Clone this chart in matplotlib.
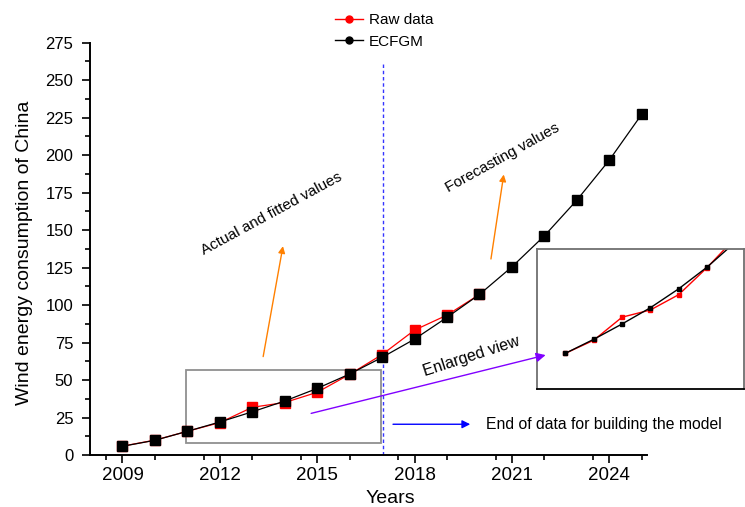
import matplotlib
matplotlib.use("Agg")
import matplotlib.pyplot as plt
from matplotlib.lines import Line2D
from matplotlib.patches import Rectangle
from matplotlib.ticker import MultipleLocator

plt.rcParams['font.family'] = ['Liberation Sans', 'DejaVu Sans']

# wind energy consumption of China (raw observations and ECFGM fit/forecast)
years = list(range(2009, 2026))
ecfgm = [5.8, 9.8, 15.8, 22.0, 28.8, 36.0, 44.4, 54.0, 65.1, 77.3, 91.8,
         107.1, 125.5, 146.2, 170.0, 196.7, 227.3]
raw_years = list(range(2009, 2021))
raw = [5.9, 9.9, 15.8, 21.6, 31.8, 35.0, 41.8, 53.8, 67.0, 83.3, 93.3, 107.1]

split_year = 2017.03
x_ticks = [2009, 2012, 2015, 2018, 2021, 2024]

fig = plt.figure(figsize=(7.45, 5.07), dpi=100)
ax = fig.add_axes([0.1208, 0.1026, 0.7472, 0.8132])
# main axes above the inset so the arrow head shows on its border
ax.set_zorder(2)
ax.patch.set_visible(False)

ax.plot(raw_years, raw, color='red', lw=0.9, marker='s', ms=7,
        mfc='red', mec='red', zorder=3)
ax.plot(years, ecfgm, color='black', lw=0.9, marker='s', ms=7,
        mfc='black', mec='black', zorder=4)

ax.set_xlim(2008, 2025.15)
ax.set_ylim(0, 275)
ax.set_xticks(x_ticks)
ax.xaxis.set_minor_locator(MultipleLocator(1.5))
ax.yaxis.set_major_locator(MultipleLocator(25))
ax.yaxis.set_minor_locator(MultipleLocator(12.5))
for side in ('top', 'right'):
    ax.spines[side].set_visible(False)
for side in ('left', 'bottom'):
    ax.spines[side].set_linewidth(1.4)
ax.tick_params(which='major', direction='out', length=6, width=1.2)
ax.tick_params(which='minor', direction='out', length=3.5, width=1.2)
ax.tick_params(axis='x', labelsize=13.5, pad=3)
ax.tick_params(axis='y', labelsize=12, pad=6)

ax.set_xlabel('Years', fontsize=14)
ax.xaxis.set_label_coords(0.54, -0.085)
ax.set_ylabel('Wind energy consumption of China', fontsize=14)
ax.yaxis.set_label_coords(-0.103, 0.49)

# end of the modelling period
ax.plot([split_year, split_year], [0, 262], color='#3535ff', lw=1,
        ls=(0, (2.5, 2)), zorder=2)
ax.annotate('', xy=(2019.8, 20.5), xytext=(2017.25, 20.5),
            arrowprops=dict(arrowstyle='-|>', color='#0000ff', lw=1,
                            mutation_scale=12))
ax.text(2020.2, 20.5, 'End of data for building the model', fontsize=11.3,
        ha='left', va='center')

# zoom box around the fitted region
ax.add_patch(Rectangle((2010.97, 7.8), 6.0, 48.9, fill=False,
                       edgecolor='#909090', lw=1.3, zorder=1))
ax.annotate('', xy=(2022.12, 67.1), xytext=(2014.73, 27.3),
            arrowprops=dict(arrowstyle='-|>', color='#8000ff', lw=1,
                            mutation_scale=14))
ax.text(2019.75, 65.5, 'Enlarged view', fontsize=11.5, rotation=18,
        ha='center', va='center')

# region labels
ax.annotate('', xy=(2013.96, 141.1), xytext=(2013.32, 63.8),
            arrowprops=dict(arrowstyle='-|>', color='#ff8000', lw=1,
                            mutation_scale=10))
ax.text(2013.6, 161, 'Actual and fitted values', fontsize=11, rotation=28.5,
        ha='center', va='center')
ax.annotate('', xy=(2020.76, 188.9), xytext=(2020.34, 128.9),
            arrowprops=dict(arrowstyle='-|>', color='#ff8000', lw=1,
                            mutation_scale=10))
ax.text(2020.7, 198, 'Forecasting values', fontsize=11, rotation=29,
        ha='center', va='center')

# legend
handles = [Line2D([], [], color='red', lw=1, marker='o', ms=5, mfc='red', mec='red'),
           Line2D([], [], color='black', lw=1, marker='o', ms=5, mfc='black', mec='black')]
fig.legend(handles, ['Raw data', 'ECFGM'], loc='center',
           bbox_to_anchor=(0.516, 0.9394), frameon=False, fontsize=11,
           handlelength=1.8, handletextpad=0.4, labelspacing=0.5)

# inset: enlarged view starting at 2011
first = years.index(2011)
ins = fig.add_axes([537 / 745, (507 - 389) / 507, (744 - 537) / 745, (389 - 249) / 507])
ins.set_zorder(1)
ins.plot(raw_years[first:9], raw[first:9], color='red', lw=1, marker='s', ms=3,
         mfc='red', mec='red')
ins.plot(years[first:9], ecfgm[first:9], color='black', lw=1, marker='s', ms=3,
         mfc='black', mec='black')
ins.set_xlim(2010, 2017.3)
ins.set_ylim(0, 62)
ins.set_xticks([])
ins.set_yticks([])
for side in ('top', 'right', 'left'):
    ins.spines[side].set_color('#707070')
    ins.spines[side].set_linewidth(1.3)
ins.spines['bottom'].set_color('black')
ins.spines['bottom'].set_linewidth(1.3)

fig.savefig('out.png', dpi=100)
